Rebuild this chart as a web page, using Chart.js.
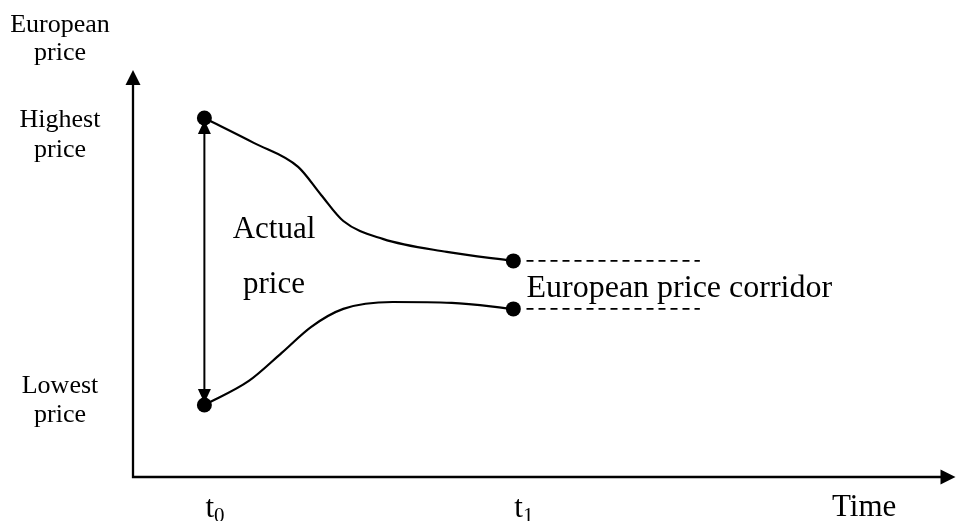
<!DOCTYPE html>
<html>
<head>
<meta charset="utf-8">
<script src="https://cdn.jsdelivr.net/npm/chart.js@4"></script>
<style>
  body { margin: 0; background: #fff; }
  #wrap { width: 962px; height: 521px; }
</style>
</head>
<body>
<div id="wrap"><canvas id="corridorChart"></canvas></div>
<script>
// price corridor sketch

// time axis positions of t0 and t1 (0..100 units along the time axis)
const timeTicks = [8.69, 46.3];
const timeTickSubs = ['0', '1'];

// upper path: highest price at t0 drifting down to the corridor top at t1
const upperX = [8.69, 14.7, 20.1, 22.9, 25.6, 30.4, 38.2, 46.3];
const upperY = [88.2, 82.1, 76.2, 69.3, 62.9, 58.5, 55.3, 53.1];

// lower path: lowest price at t0 rising to the corridor bottom at t1
const lowerX = [8.69, 14.1, 18.1, 21.7, 25.6, 31.6, 38.8, 46.3];
const lowerY = [17.7, 23.6, 30.5, 36.9, 41.3, 43.0, 42.8, 41.3];

// corridor extension (dashed)
const corridorX = [47.9, 69.0];
const corridorTop = [53.1, 53.1];
const corridorBottom = [41.3, 41.3];

const serif = '"Liberation Serif", "DejaVu Serif", serif';

function toPoints(xs, ys) {
  return xs.map((x, i) => ({ x: x, y: ys[i] }));
}

function endDots(n) {
  return Array.from({ length: n }, (_, i) => (i === 0 || i === n - 1) ? 7.5 : 0);
}

function arrowHead(ctx, x, y, dx, dy, len, half) {
  // tip at (x, y), pointing in direction (dx, dy)
  const bx = x - dx * len, by = y - dy * len;
  ctx.beginPath();
  ctx.moveTo(x, y);
  ctx.lineTo(bx - dy * half, by + dx * half);
  ctx.lineTo(bx + dy * half, by - dx * half);
  ctx.closePath();
  ctx.fill();
}

const sketchPlugin = {
  id: 'sketch',
  beforeDatasetsDraw(chart) {
    const ctx = chart.ctx;
    const a = chart.chartArea;
    const xs = chart.scales.x, ys = chart.scales.y;
    ctx.save();
    ctx.strokeStyle = '#000';
    ctx.fillStyle = '#000';
    ctx.lineWidth = 2.3;

    // axes
    ctx.beginPath();
    ctx.moveTo(a.left, a.top + 12);
    ctx.lineTo(a.left, a.bottom);
    ctx.lineTo(a.right - 12, a.bottom);
    ctx.stroke();
    arrowHead(ctx, a.left, a.top, 0, -1, 15, 7.5);
    arrowHead(ctx, a.right + 1, a.bottom, 1, 0, 15, 7.5);

    // heads of the actual price double arrow
    const px = xs.getPixelForValue(upperX[0]);
    const top = ys.getPixelForValue(upperY[0]);
    const bot = ys.getPixelForValue(lowerY[0]);
    arrowHead(ctx, px, top + 2, 0, -1, 14, 6.5);
    arrowHead(ctx, px, bot - 2, 0, 1, 14, 6.5);
    ctx.restore();
  },
  afterDraw(chart) {
    const ctx = chart.ctx;
    const a = chart.chartArea;
    const xs = chart.scales.x, ys = chart.scales.y;
    ctx.save();
    ctx.fillStyle = '#000';
    ctx.textBaseline = 'alphabetic';

    // y axis labels
    ctx.font = '26px ' + serif;
    ctx.textAlign = 'center';
    const lx = 60;
    ctx.fillText('European', lx, a.top - 38);
    ctx.fillText('price', lx, a.top - 10);
    const hy = ys.getPixelForValue(upperY[0]);
    ctx.fillText('Highest', lx, hy + 9);
    ctx.fillText('price', lx, hy + 39);
    const ly = ys.getPixelForValue(lowerY[0]);
    ctx.fillText('Lowest', lx, ly - 12);
    ctx.fillText('price', lx, ly + 17);

    // inner labels
    ctx.font = '31px ' + serif;
    ctx.fillText('Actual', 274, 238);
    ctx.fillText('price', 274, 293);
    ctx.textAlign = 'left';
    ctx.font = '32px ' + serif;
    ctx.fillText('European price corridor', xs.getPixelForValue(corridorX[0]), 297);

    // time axis labels
    const base = a.bottom + 40;
    timeTicks.forEach((t, i) => {
      const x = xs.getPixelForValue(t) + 1;
      ctx.font = '31px ' + serif;
      ctx.fillText('t', x, base);
      const w = ctx.measureText('t').width;
      ctx.font = '21px ' + serif;
      ctx.fillText(timeTickSubs[i], x + w, base + 5);
    });
    ctx.font = '31px ' + serif;
    ctx.fillText('Time', 832, base - 1);
    ctx.restore();
  }
};

const curveStyle = {
  showLine: true,
  borderColor: '#000',
  backgroundColor: '#000',
  borderWidth: 2.2,
  pointBackgroundColor: '#000',
  pointBorderWidth: 0,
  cubicInterpolationMode: 'monotone',
  fill: false
};

new Chart(document.getElementById('corridorChart'), {
  type: 'scatter',
  data: {
    datasets: [
      Object.assign({ label: 'Upper', data: toPoints(upperX, upperY), pointRadius: endDots(upperX.length) }, curveStyle),
      Object.assign({ label: 'Lower', data: toPoints(lowerX, lowerY), pointRadius: endDots(lowerX.length) }, curveStyle),
      {
        label: 'Actual price',
        data: [{ x: upperX[0], y: upperY[0] - 3 }, { x: lowerX[0], y: lowerY[0] + 3 }],
        showLine: true, borderColor: '#000', borderWidth: 2, pointRadius: 0
      },
      {
        label: 'Corridor top',
        data: toPoints(corridorX, corridorTop),
        showLine: true, borderColor: '#000', borderWidth: 1.8, borderDash: [7, 5], pointRadius: 0
      },
      {
        label: 'Corridor bottom',
        data: toPoints(corridorX, corridorBottom),
        showLine: true, borderColor: '#000', borderWidth: 1.8, borderDash: [7, 5], pointRadius: 0
      }
    ]
  },
  options: {
    responsive: true,
    maintainAspectRatio: false,
    animation: false,
    layout: { padding: { left: 133, top: 70, right: 0, bottom: 44 } },
    plugins: {
      legend: { display: false },
      tooltip: { enabled: false }
    },
    scales: {
      x: { type: 'linear', min: 0, max: 100, display: false },
      y: { type: 'linear', min: 0, max: 100, display: false }
    }
  },
  plugins: [sketchPlugin]
});
</script>
</body>
</html>
